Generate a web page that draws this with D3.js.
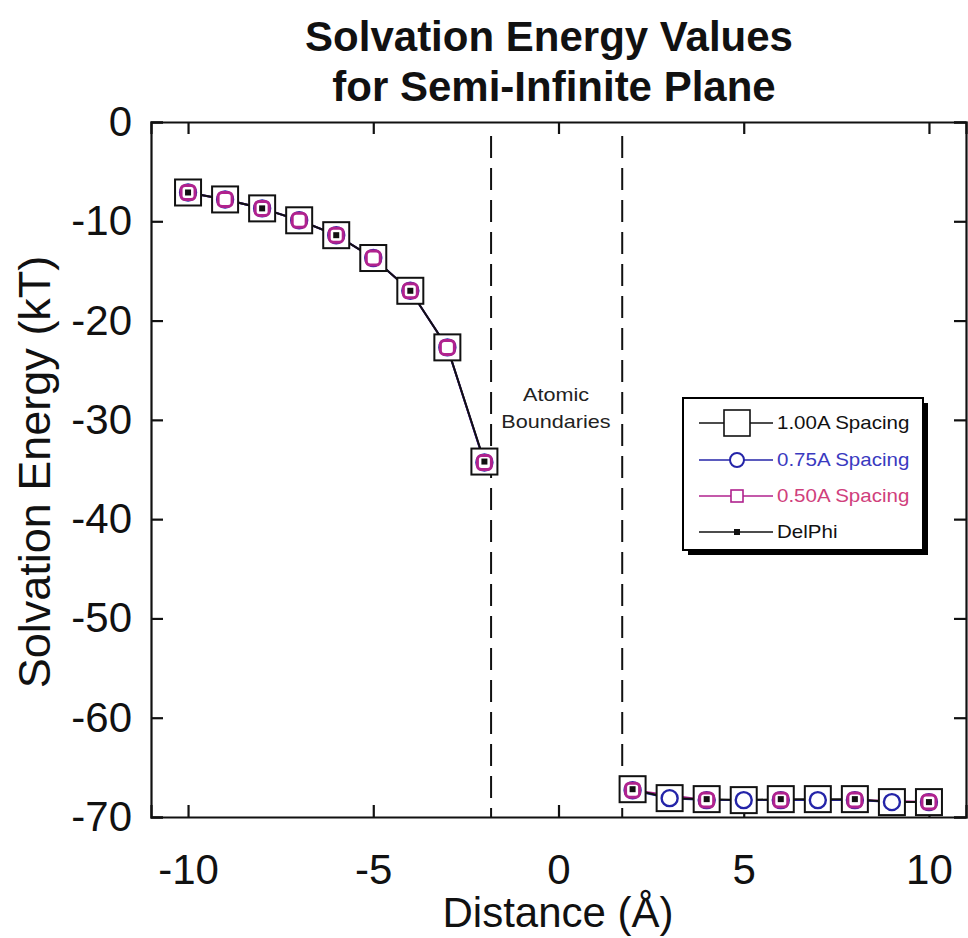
<!DOCTYPE html>
<html>
<head>
<meta charset="utf-8">
<script src="https://cdn.jsdelivr.net/npm/d3@7"></script>
<style>
  html, body { margin: 0; padding: 0; background: #ffffff; }
  svg { display: block; }
  text { font-family: "Liberation Sans", Arial, sans-serif; }
</style>
</head>
<body>
<svg id="chart" width="968" height="938"></svg>
<script>
// Distances (Å) on each side of the plane
const distLeft  = [-10, -9, -8, -7, -6, -5, -4, -3, -2];
const distRight = [2, 3, 4, 5, 6, 7, 8, 9, 10];

// Solvation energy (kT) per grid spacing
const spacing100Left  = [-7.1, -7.8, -8.7, -9.9, -11.4, -13.7, -17.0, -22.7, -34.2];
const spacing100Right = [-67.2, -68.1, -68.2, -68.3, -68.2, -68.2, -68.2, -68.5, -68.5];
const spacing075Left  = [-7.1, -7.8, -8.7, -9.9, -11.4, -13.7, -17.0, -22.7, -34.3];
const spacing075Right = [-67.3, -68.1, -68.3, -68.3, -68.3, -68.3, -68.3, -68.5, -68.5];
const spacing050Left  = [-7.1, -7.8, -8.7, -9.9, -11.4, -13.7, -17.0, -22.7, -34.3];
const spacing050RightX = [2, 4, 6, 8, 10];
const spacing050Right = [-67.3, -68.3, -68.3, -68.3, -68.5];
const delphiX = [-10, -8, -6, -4, -2, 2, 4, 6, 8, 10];
const delphiY = [-7.1, -8.7, -11.4, -17.0, -34.2, -67.2, -68.2, -68.2, -68.2, -68.5];

// Atomic boundary positions (Å)
const boundaries = [-1.82, 1.72];

const xTicks = [-10, -5, 0, 5, 10];
const yTicks = [0, -10, -20, -30, -40, -50, -60, -70];

const legendItems = ["1.00A Spacing", "0.75A Spacing", "0.50A Spacing", "DelPhi"];

const colBlack = "#111111";
const colBlue = "#2424a8";
const colMagenta = "#b0228e";
const colBlueText = "#3a3ac0";
const colPinkText = "#d0407c";
const smallFont = "'DejaVu Sans', Verdana, sans-serif";

const svg = d3.select("#chart");

const x = d3.scaleLinear().domain([-11, 11]).range([151, 966]);
const y = d3.scaleLinear().domain([0, -70]).range([122, 817]);

// Title
svg.append("text").attr("x", 549).attr("y", 51)
  .attr("text-anchor", "middle").attr("font-size", 42).attr("font-weight", "bold")
  .attr("fill", colBlack).text("Solvation Energy Values");
svg.append("text").attr("x", 554).attr("y", 101)
  .attr("text-anchor", "middle").attr("font-size", 42).attr("font-weight", "bold")
  .attr("fill", colBlack).text("for Semi-Infinite Plane");

// Axes with inward ticks on all four sides
const tickLen = 12;
const fmt = d => String(d);
const axB = svg.append("g").attr("transform", `translate(0,${y(-70)})`)
  .call(d3.axisBottom(x).tickValues(xTicks).tickSize(-tickLen).tickPadding(37).tickFormat(fmt));
const axT = svg.append("g").attr("transform", `translate(0,${y(0)})`)
  .call(d3.axisTop(x).tickValues(xTicks).tickSize(-tickLen).tickFormat(""));
const axL = svg.append("g").attr("transform", `translate(${x(-11)},0)`)
  .call(d3.axisLeft(y).tickValues(yTicks).tickSize(-tickLen).tickPadding(19).tickFormat(fmt));
const axR = svg.append("g").attr("transform", `translate(${x(11)},0)`)
  .call(d3.axisRight(y).tickValues(yTicks).tickSize(-tickLen).tickFormat(""));

[axB, axT, axL, axR].forEach(g => {
  g.select(".domain").attr("stroke", colBlack).attr("stroke-width", 2.2);
  g.selectAll(".tick line").attr("stroke", colBlack).attr("stroke-width", 2.2);
  g.selectAll(".tick text").attr("font-size", 42).attr("fill", colBlack)
    .attr("font-family", "'Liberation Sans', Arial, sans-serif");
});
axB.selectAll(".tick text").attr("dy", "0.71em");

// Axis titles
svg.append("text").attr("x", 558).attr("y", 927).attr("text-anchor", "middle")
  .attr("font-size", 42).attr("fill", colBlack).text("Distance (Å)");
svg.append("text").attr("transform", `translate(50,472) rotate(-90)`).attr("text-anchor", "middle")
  .attr("font-size", 45).attr("fill", colBlack).text("Solvation Energy (kT)");

// Atomic boundary dashed lines
svg.selectAll("line.boundary").data(boundaries).join("line")
  .attr("class", "boundary")
  .attr("x1", d => x(d)).attr("x2", d => x(d))
  .attr("y1", y(-1.4)).attr("y2", y(-70))
  .attr("stroke", colBlack).attr("stroke-width", 2).attr("stroke-dasharray", "22,10");

// Boundary label, white backing so it sits on top of the dashes
const lbl = svg.append("g");
lbl.append("rect").attr("x", 495).attr("y", 378).attr("width", 121).attr("height", 54).attr("fill", "#fff");
lbl.append("text").attr("transform", "translate(556,401) scale(1.2,1)").attr("text-anchor", "middle")
  .attr("font-family", smallFont).attr("font-size", 18).attr("fill", "#222").text("Atomic");
lbl.append("text").attr("transform", "translate(556,428) scale(1.2,1)").attr("text-anchor", "middle")
  .attr("font-family", smallFont).attr("font-size", 18).attr("fill", "#222").text("Boundaries");

const zip = (xs, ys) => xs.map((d, i) => ({ x: d, y: ys[i] }));
const s100 = [zip(distLeft, spacing100Left), zip(distRight, spacing100Right)];
const s075 = [zip(distLeft, spacing075Left), zip(distRight, spacing075Right)];
const s050 = [zip(distLeft, spacing050Left), zip(spacing050RightX, spacing050Right)];
const sDel = zip(delphiX, delphiY);

const line = d3.line().x(d => x(d.x)).y(d => y(d.y));

// Connecting lines
[[s050, colMagenta], [s075, colBlue], [s100, colBlack]].forEach(([segs, c]) => {
  segs.forEach(seg => {
    svg.append("path").attr("d", line(seg)).attr("fill", "none")
      .attr("stroke", c).attr("stroke-width", 2);
  });
});

// 1.00A: large open squares
const big = 26;
svg.append("g").selectAll("rect").data(s100.flat()).join("rect")
  .attr("x", d => x(d.x) - big / 2).attr("y", d => y(d.y) - big / 2)
  .attr("width", big).attr("height", big)
  .attr("fill", "#fff").attr("stroke", colBlack).attr("stroke-width", 2);

// 0.75A: open circles
svg.append("g").selectAll("circle").data(s075.flat()).join("circle")
  .attr("cx", d => x(d.x)).attr("cy", d => y(d.y)).attr("r", 8)
  .attr("fill", "#fff").attr("stroke", colBlue).attr("stroke-width", 2.4);

// 0.50A: small rounded squares
const sm = 14;
svg.append("g").selectAll("rect").data(s050.flat()).join("rect")
  .attr("x", d => x(d.x) - sm / 2).attr("y", d => y(d.y) - sm / 2)
  .attr("width", sm).attr("height", sm).attr("rx", 4)
  .attr("fill", "#fff").attr("stroke", colMagenta).attr("stroke-width", 3);

// DelPhi: small filled dots
svg.append("g").selectAll("rect").data(sDel).join("rect")
  .attr("x", d => x(d.x) - 3).attr("y", d => y(d.y) - 3)
  .attr("width", 6).attr("height", 6).attr("fill", colBlack);

// Legend
const lg = svg.append("g");
lg.append("rect").attr("x", 688).attr("y", 403).attr("width", 240).attr("height", 152).attr("fill", "#000");
lg.append("rect").attr("x", 683).attr("y", 398).attr("width", 240).attr("height", 152)
  .attr("fill", "#fff").attr("stroke", "#000").attr("stroke-width", 2);
const rowY = [423, 460, 496, 532];
const rowLine = [colBlack, colBlue, colMagenta, colBlack];
const rowText = [colBlack, colBlueText, colPinkText, colBlack];
legendItems.forEach((name, i) => {
  const ry = rowY[i];
  lg.append("line").attr("x1", 699).attr("x2", 773).attr("y1", ry).attr("y2", ry)
    .attr("stroke", rowLine[i]).attr("stroke-width", 1.5);
  if (i === 0) {
    lg.append("rect").attr("x", 737 - 13).attr("y", ry - 13).attr("width", 26).attr("height", 26)
      .attr("fill", "#fff").attr("stroke", colBlack).attr("stroke-width", 1.6);
  } else if (i === 1) {
    lg.append("circle").attr("cx", 737).attr("cy", ry).attr("r", 7)
      .attr("fill", "#fff").attr("stroke", colBlue).attr("stroke-width", 2);
  } else if (i === 2) {
    lg.append("rect").attr("x", 737 - 6).attr("y", ry - 6).attr("width", 12).attr("height", 12)
      .attr("fill", "#fff").attr("stroke", colMagenta).attr("stroke-width", 1.6);
  } else {
    lg.append("rect").attr("x", 737 - 3).attr("y", ry - 3).attr("width", 6).attr("height", 6).attr("fill", colBlack);
  }
  lg.append("text").attr("transform", `translate(777,${ry + 6}) scale(1.14,1)`)
    .attr("font-family", smallFont).attr("font-size", 18)
    .attr("fill", rowText[i]).text(name);
});
</script>
</body>
</html>
